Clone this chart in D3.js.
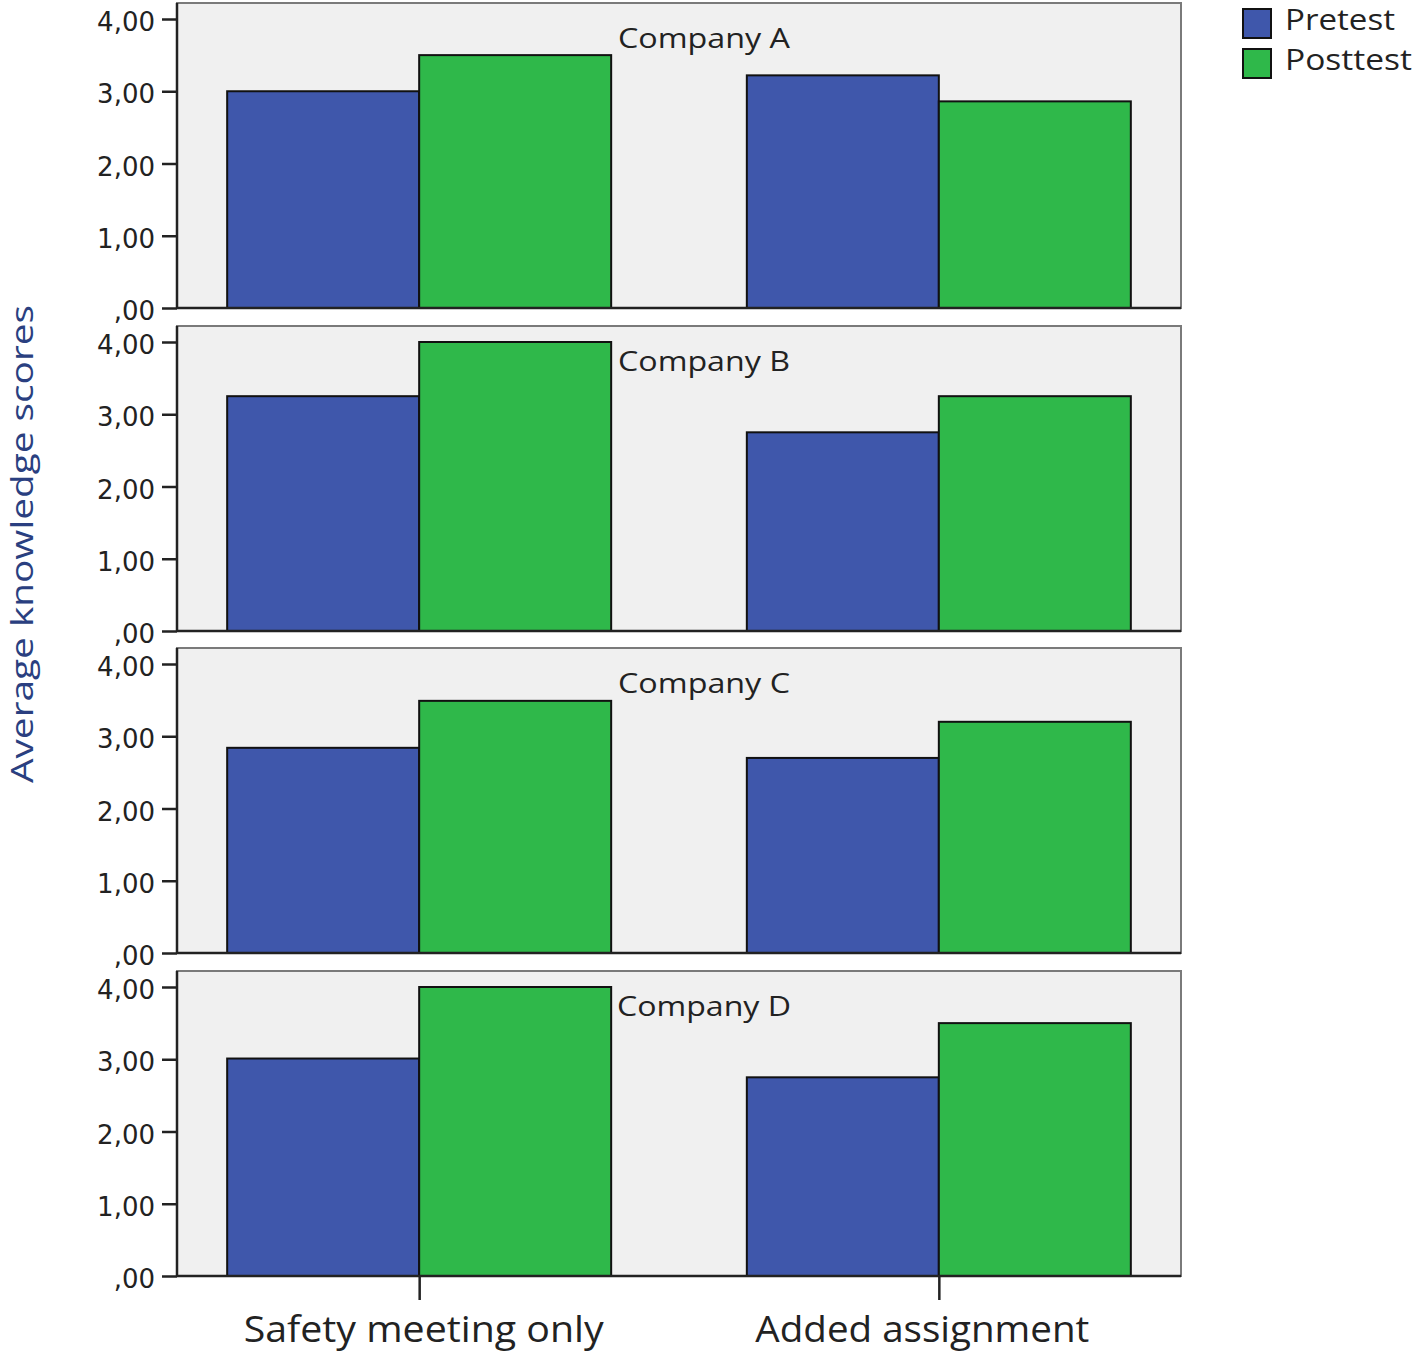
<!DOCTYPE html>
<html><head><meta charset="utf-8">
<script src="https://cdn.jsdelivr.net/npm/d3@7"></script>
<style>body{margin:0;background:#fff}svg{display:block}</style>
</head><body>
<script>
const companies = ["Company A","Company B","Company C","Company D"];
const categories = ["Safety meeting only","Added assignment"];
const series = ["Pretest","Posttest"];
const pretest = [[3.00,3.22],[3.25,2.75],[2.84,2.70],[3.01,2.75]];
const posttest = [[3.50,2.86],[4.00,3.25],[3.49,3.20],[4.00,3.50]];
const yTicks = [0,1,2,3,4];
const tickLabels = [",00","1,00","2,00","3,00","4,00"];
const colors = ["#3f57ab","#2fb84a"];

const W=1416,H=1352;
const svg=d3.select("body").append("svg").attr("width",W).attr("height",H);
const x0=177,x1=1181;
const panelBottoms=[308,631,953,1276];
const ppu=72.25;
const x=d3.scalePoint().domain(categories).range([x0,x1]).padding(0.466);
const barW=192;
const xi=d3.scaleBand().domain(series).range([-barW,barW]);
const tickFont="'DejaVu Sans', sans-serif";
const textFont="'Open Sans','Noto Sans',sans-serif";
const titleLen=[172,172,172,174];

companies.forEach((c,pi)=>{
  const b=panelBottoms[pi];
  const y=d3.scaleLinear().domain([0,4]).range([b,b-4*ppu]);
  const top=b-305;
  const g=svg.append("g");
  g.append("rect").attr("x",x0).attr("y",top).attr("width",x1-x0).attr("height",b-top)
    .attr("fill","#f0f0f0").attr("stroke","#7a7a7a").attr("stroke-width",2);
  const vals=[pretest[pi],posttest[pi]];
  categories.forEach((cat,ci)=>{
    series.forEach((s,si)=>{
      const v=vals[si][ci];
      g.append("rect").attr("x",x(cat)+xi(s)).attr("y",y(v)).attr("width",xi.bandwidth())
        .attr("height",y(0)-y(v)).attr("fill",colors[si]).attr("stroke","#111").attr("stroke-width",2);
    });
  });
  const ax=g.append("g").attr("transform",`translate(${x0},0)`)
    .call(d3.axisLeft(y).tickValues(yTicks).tickSize(15).tickPadding(7).tickFormat((d,i)=>tickLabels[i]));
  ax.select(".domain").attr("stroke","#222").attr("stroke-width",2.5).attr("d",`M0,${top}V${b}`);
  ax.selectAll(".tick line").attr("stroke","#222").attr("stroke-width",2.5);
  ax.selectAll(".tick text").attr("font-family",tickFont).attr("font-size",26).attr("fill","#222").attr("dy","0.45em");
  g.append("line").attr("x1",x0).attr("x2",x1).attr("y1",b).attr("y2",b).attr("stroke","#222").attr("stroke-width",2.5);
  g.append("text").attr("x",(x0+x1)/2+25).attr("y",top+45).attr("text-anchor","middle")
    .attr("font-family",textFont).attr("font-size",27).attr("fill","#222")
    .attr("textLength",titleLen[pi]).attr("lengthAdjust","spacingAndGlyphs").text(c);
});

// bottom axis
const bx=svg.append("g").attr("transform",`translate(0,${panelBottoms[3]})`)
  .call(d3.axisBottom(x).tickSize(24).tickPadding(16));
bx.select(".domain").remove();
bx.selectAll(".tick line").attr("stroke","#222").attr("stroke-width",2.5);
bx.selectAll(".tick text").attr("font-family",textFont).attr("font-size",37).attr("fill","#222")
  .attr("textLength",(d,i)=>[360,334][i]).attr("lengthAdjust","spacingAndGlyphs")
  .attr("dx",(d,i)=>[4,-17][i]);

// y label
svg.append("text").attr("transform","translate(33,544) rotate(-90)").attr("text-anchor","middle")
  .attr("font-family",textFont).attr("font-size",31).attr("fill","#2a3f80")
  .attr("textLength",478).attr("lengthAdjust","spacingAndGlyphs").text("Average knowledge scores");

// legend
const lg=svg.append("g");
series.forEach((s,i)=>{
  lg.append("rect").attr("x",1243).attr("y",9+i*40).attr("width",28).attr("height",29)
    .attr("fill",colors[i]).attr("stroke","#111").attr("stroke-width",2);
  lg.append("text").attr("x",1285).attr("y",30+i*40).attr("font-family",textFont).attr("font-size",29)
    .attr("fill","#222").attr("textLength",[110,127][i]).attr("lengthAdjust","spacingAndGlyphs").text(s);
});
</script>
</body></html>
